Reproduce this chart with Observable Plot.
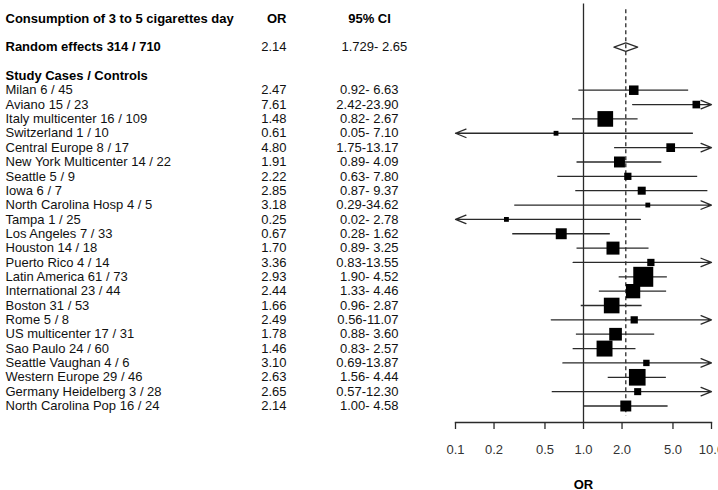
<!DOCTYPE html>
<html>
<head>
<meta charset="utf-8">
<script src="https://cdn.jsdelivr.net/npm/d3@7"></script>
<script src="https://cdn.jsdelivr.net/npm/@observablehq/plot@0.6"></script>
<style>
  body { margin: 0; background: white; }
  #chart g[aria-label="x-axis label"] text { font-weight: bold; fill: #000; }
</style>
</head>
<body>
<div id="chart"></div>
<script>
// Study-level results: consumption of 3 to 5 cigarettes per day
const studyNames = [
  "Milan", "Aviano", "Italy multicenter", "Switzerland", "Central Europe",
  "New York Multicenter", "Seattle", "Iowa", "North Carolina Hosp", "Tampa",
  "Los Angeles", "Houston", "Puerto Rico", "Latin America", "International",
  "Boston", "Rome", "US multicenter", "Sao Paulo", "Seattle Vaughan",
  "Western Europe", "Germany Heidelberg", "North Carolina Pop"
];
const cases    = [6, 15, 16, 1, 8, 14, 5, 6, 4, 1, 7, 14, 4, 61, 23, 31, 5, 17, 24, 4, 29, 3, 16];
const controls = [45, 23, 109, 10, 17, 22, 9, 7, 5, 25, 33, 18, 14, 73, 44, 53, 8, 31, 60, 6, 46, 28, 24];
const oddsRatios = [2.47, 7.61, 1.48, 0.61, 4.80, 1.91, 2.22, 2.85, 3.18, 0.25, 0.67, 1.70, 3.36, 2.93, 2.44, 1.66, 2.49, 1.78, 1.46, 3.10, 2.63, 2.65, 2.14];
const ciLower = [0.92, 2.42, 0.82, 0.05, 1.75, 0.89, 0.63, 0.87, 0.29, 0.02, 0.28, 0.89, 0.83, 1.90, 1.33, 0.96, 0.56, 0.88, 0.83, 0.69, 1.56, 0.57, 1.00];
const ciUpper = [6.63, 23.90, 2.67, 7.10, 13.17, 4.09, 7.80, 9.37, 34.62, 2.78, 1.62, 3.25, 13.55, 4.52, 4.46, 2.87, 11.07, 3.60, 2.57, 13.87, 4.44, 12.30, 4.58];
// relative study weights (%), shown as box area
const weights = [3.1, 2.0, 8.4, 0.8, 2.6, 4.1, 1.8, 2.2, 0.8, 0.8, 4.1, 5.8, 1.8, 13.7, 7.0, 8.4, 1.8, 5.5, 8.7, 1.4, 9.5, 1.7, 4.1];

// Pooled random-effects estimate
const pooledName = "Random effects";
const pooledCases = 314;
const pooledControls = 710;
const pooledOR = 2.14;
const pooledLower = 1.729;
const pooledUpper = 2.65;

// Table headings and axis
const titleText = "Consumption of 3 to 5 cigarettes day";
const orHeader = "OR";
const ciHeader = "95% CI";
const studyHeader = "Study Cases / Controls";
const axisTicks = [0.1, 0.2, 0.5, 1, 2, 5, 10];
const axisLabel = "OR";

// Row layout (row units on the y scale, counted downwards)
const headerRow = -5;
const pooledRow = -3;
const studyHeaderRow = -1;
const lastRow = studyNames.length - 1;
const yDomain = [-6.25, 23.15];
const xDomain = [axisTicks[0], axisTicks[axisTicks.length - 1]];

const studies = studyNames.map((name, i) => ({
  label: `${name} ${cases[i]} / ${controls[i]}`,
  or: oddsRatios[i],
  lower: ciLower[i],
  upper: ciUpper[i],
  weight: weights[i],
  row: i
}));

const fmt2 = d3.format(".2f");
const fmtUpper = d3.format("5.2f");
const clampX = (v) => Math.min(Math.max(v, xDomain[0]), xDomain[1]);

const inside = studies.filter(d => d.lower >= xDomain[0] && d.upper <= xDomain[1]);
const overRight = studies.filter(d => d.upper > xDomain[1]);
const overLeft = studies.filter(d => d.lower < xDomain[0]);

// diamond outline for the pooled estimate
const diamondHalf = 0.29;
const diamond = [
  {x: pooledLower, y: pooledRow},
  {x: pooledOR, y: pooledRow - diamondHalf},
  {x: pooledUpper, y: pooledRow},
  {x: pooledOR, y: pooledRow + diamondHalf}
];

const boldLeft = [
  {row: headerRow, text: titleText},
  {row: pooledRow, text: `${pooledName} ${pooledCases} / ${pooledControls}`},
  {row: studyHeaderRow, text: studyHeader}
];

const lineColor = "#2a2a2a";
const font = "Liberation Sans, Arial, Helvetica, sans-serif";

const chart = Plot.plot({
  width: 718,
  height: 490,
  marginLeft: 455,
  marginRight: 7,
  marginTop: 0,
  marginBottom: 68,
  style: {fontFamily: font, fontSize: "13px", background: "white", color: "#222"},
  x: {type: "log", domain: xDomain},
  y: {domain: yDomain, reverse: true, axis: null},
  r: {type: "sqrt", domain: [0, d3.max(weights)], range: [0, 20 / Math.sqrt(Math.PI)]},
  marks: [
    // line of no effect
    Plot.ruleX([1], {y1: headerRow - 1, y2: yDomain[1], stroke: lineColor, strokeWidth: 1.3}),
    // confidence intervals inside the axis range
    Plot.ruleY(inside, {y: "row", x1: "lower", x2: "upper", stroke: lineColor, strokeWidth: 1.3}),
    // intervals running past the axis end with an arrow
    Plot.arrow(overRight, {
      x1: d => clampX(d.lower), x2: d => clampX(d.upper), y1: "row", y2: "row",
      stroke: lineColor, strokeWidth: 1.3, headLength: 13, headAngle: 44
    }),
    Plot.arrow(overLeft, {
      x1: d => clampX(d.upper), x2: d => clampX(d.lower), y1: "row", y2: "row",
      stroke: lineColor, strokeWidth: 1.3, headLength: 13, headAngle: 44
    }),
    // pooled estimate
    Plot.line(diamond, {x: "x", y: "y", curve: "linear-closed", fill: "white", stroke: lineColor, strokeWidth: 1.3}),
    Plot.ruleX([pooledOR], {y1: headerRow - 0.6, y2: lastRow + 0.7, stroke: lineColor, strokeWidth: 1.3, strokeDasharray: "4,3"}),
    // study estimates, box area by weight
    Plot.dot(studies, {x: "or", y: "row", r: "weight", symbol: "square", fill: "#000", stroke: null}),
    // axis
    Plot.frame({anchor: "bottom", stroke: lineColor, strokeWidth: 1.3}),
    Plot.axisX({
      ticks: axisTicks, tickFormat: d3.format(".1f"), tickSize: 7, tickPadding: 15,
      fontSize: 13, strokeWidth: 1.3, stroke: lineColor, fill: "#333",
      label: axisLabel, labelAnchor: "center", labelArrow: "none", labelOffset: 66
    }),
    // table: bold headings
    Plot.text(boldLeft, {y: "row", text: "text", frameAnchor: "left", dx: -450, textAnchor: "start", fontWeight: "bold", fontSize: 13, fill: "#000"}),
    Plot.text([{row: headerRow, text: orHeader}], {y: "row", text: "text", frameAnchor: "left", dx: -169, textAnchor: "end", fontWeight: "bold", fontSize: 13, fill: "#000"}),
    Plot.text([{row: headerRow, text: ciHeader}], {y: "row", text: "text", frameAnchor: "left", dx: -86, textAnchor: "middle", fontWeight: "bold", fontSize: 13, fill: "#000"}),
    // pooled row values
    Plot.text([{row: pooledRow, text: fmt2(pooledOR)}], {y: "row", text: "text", frameAnchor: "left", dx: -169, textAnchor: "end", fontSize: 13, fill: "#111"}),
    Plot.text([{row: pooledRow, text: `${d3.format(".3f")(pooledLower)}-${fmtUpper(pooledUpper)}`}], {y: "row", text: "text", frameAnchor: "left", dx: -114, textAnchor: "start", fontSize: 13, fill: "#111"}),
    // study rows
    Plot.text(studies, {y: "row", text: "label", frameAnchor: "left", dx: -450, textAnchor: "start", fontSize: 13, fill: "#111"}),
    Plot.text(studies, {y: "row", text: d => fmt2(d.or), frameAnchor: "left", dx: -169, textAnchor: "end", fontSize: 13, fill: "#111"}),
    Plot.text(studies, {y: "row", text: d => `${fmt2(d.lower)}-${fmtUpper(d.upper)}`, frameAnchor: "left", dx: -57, textAnchor: "end", fontSize: 13, fill: "#111"})
  ]
});

document.getElementById("chart").appendChild(chart);
</script>
</body>
</html>
